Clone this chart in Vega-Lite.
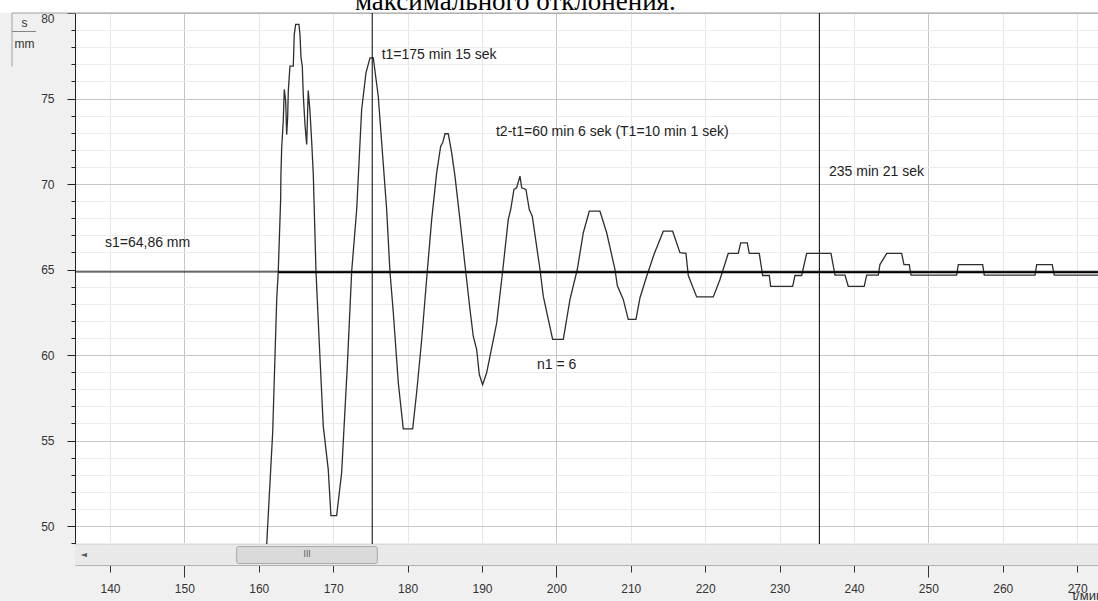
{
  "$schema": "https://vega.github.io/schema/vega-lite/v6.json",
  "width": 1023,
  "height": 531,
  "autosize": {"type": "none"},
  "padding": {"left": 75, "top": 13, "right": 0, "bottom": 57},
  "background": "#f0f0f0",
  "view": {"fill": "white", "stroke": "#b0b0b0", "strokeWidth": 1},
  "layer": [
    {
      "data": {"values": [{}]},
      "mark": {"type": "rect", "fill": "white", "clip": false},
      "encoding": {
        "x": {"datum": 125, "type": "quantitative"},
        "x2": {"datum": 274},
        "y": {"datum": 80, "type": "quantitative"},
        "y2": {"datum": 80.76}
      }
    },
    {
      "data": {"values": [{"caption": "максимального отклонения."}]},
      "mark": {"type": "text", "font": "Liberation Serif", "fontSize": 27, "color": "#000000", "align": "left", "baseline": "alphabetic", "clip": false},
      "encoding": {
        "x": {"datum": 172.93, "type": "quantitative"},
        "y": {"datum": 80.18, "type": "quantitative"},
        "text": {"field": "caption"}
      }
    },
    {
      "data": {"values": [{}]},
      "mark": {"type": "rect", "fill": "#e9e9e9", "clip": false},
      "encoding": {
        "x": {"datum": 135.3, "type": "quantitative"},
        "x2": {"datum": 274},
        "y": {"datum": 48.93, "type": "quantitative"},
        "y2": {"datum": 47.7}
      }
    },
    {
      "data": {"values": [{}]},
      "mark": {"type": "rect", "fill": "#dadada", "stroke": "#a8a8a8", "strokeWidth": 1, "cornerRadius": 2, "clip": false},
      "encoding": {
        "x": {"datum": 157.03, "type": "quantitative"},
        "x2": {"datum": 175.93},
        "y": {"datum": 48.8, "type": "quantitative"},
        "y2": {"datum": 47.81}
      }
    },
    {
      "data": {"values": [{"txt": "III", "t": 166.5}, {"txt": "◄", "t": 136.5}]},
      "mark": {"type": "text", "font": "DejaVu Sans", "fontSize": 8, "color": "#555555", "clip": false, "baseline": "middle"},
      "encoding": {
        "x": {"field": "t", "type": "quantitative"},
        "y": {"datum": 48.31, "type": "quantitative"},
        "text": {"field": "txt"}
      }
    },
    {
      "data": {"values": [{}]},
      "mark": {"type": "rule", "color": "#808080", "strokeWidth": 1, "clip": false},
      "encoding": {
        "x": {"datum": 126.83, "type": "quantitative"},
        "x2": {"datum": 130.05},
        "y": {"datum": 78.92, "type": "quantitative"}
      }
    },
    {
      "data": {"values": [{}]},
      "mark": {"type": "rule", "color": "#a0a0a0", "strokeWidth": 1, "clip": false},
      "encoding": {
        "x": {"datum": 126.83, "type": "quantitative"},
        "y": {"datum": 80, "type": "quantitative"},
        "y2": {"datum": 76.87}
      }
    },
    {
      "data": {"values": [{}]},
      "mark": {"type": "rule", "color": "#a0a0a0", "strokeWidth": 1, "clip": false},
      "encoding": {
        "x": {"datum": 126.83, "type": "quantitative"},
        "x2": {"datum": 274},
        "y": {"datum": 80, "type": "quantitative"}
      }
    },
    {
      "data": {"values": [
        {"t": 161.0, "s": 48.4}, {"t": 161.87, "s": 55.47}, {"t": 162.41, "s": 63.25}, {"t": 162.62, "s": 64.9},
        {"t": 162.94, "s": 69.09}, {"t": 162.98, "s": 70.56}, {"t": 163.08, "s": 72.12}, {"t": 163.29, "s": 73.67},
        {"t": 163.43, "s": 75.53}, {"t": 163.62, "s": 74.84}, {"t": 163.75, "s": 72.89}, {"t": 163.88, "s": 73.87},
        {"t": 163.97, "s": 75.43}, {"t": 164.19, "s": 76.89}, {"t": 164.64, "s": 76.89}, {"t": 164.77, "s": 78.74},
        {"t": 164.96, "s": 79.33}, {"t": 165.4, "s": 79.33}, {"t": 165.54, "s": 78.74}, {"t": 165.67, "s": 77.42},
        {"t": 165.85, "s": 76.89}, {"t": 165.98, "s": 75.23}, {"t": 166.21, "s": 73.48}, {"t": 166.44, "s": 72.31},
        {"t": 166.65, "s": 75.47}, {"t": 166.88, "s": 74.26}, {"t": 167.11, "s": 72.5}, {"t": 167.33, "s": 70.56},
        {"t": 167.42, "s": 69.09}, {"t": 167.69, "s": 64.9}, {"t": 168.13, "s": 60.73}, {"t": 168.67, "s": 55.84},
        {"t": 169.34, "s": 53.3}, {"t": 169.7, "s": 50.61}, {"t": 170.47, "s": 50.61}, {"t": 171.14, "s": 53.13},
        {"t": 171.9, "s": 59.35}, {"t": 172.49, "s": 64.9}, {"t": 173.16, "s": 68.51}, {"t": 173.83, "s": 74.36},
        {"t": 174.41, "s": 76.5}, {"t": 174.95, "s": 77.38}, {"t": 175.39, "s": 77.38}, {"t": 176.06, "s": 75.13},
        {"t": 177.19, "s": 68.51}, {"t": 177.63, "s": 64.9}, {"t": 178.08, "s": 62.49}, {"t": 178.75, "s": 58.39},
        {"t": 179.42, "s": 55.68}, {"t": 180.69, "s": 55.68}, {"t": 181.22, "s": 57.81}, {"t": 181.9, "s": 60.91},
        {"t": 182.65, "s": 64.9}, {"t": 183.24, "s": 67.92}, {"t": 183.91, "s": 70.65}, {"t": 184.45, "s": 72.21},
        {"t": 184.72, "s": 72.41}, {"t": 185.03, "s": 72.94}, {"t": 185.47, "s": 72.94}, {"t": 185.93, "s": 71.82},
        {"t": 186.37, "s": 70.46}, {"t": 187.04, "s": 67.92}, {"t": 187.81, "s": 64.9}, {"t": 188.39, "s": 62.66},
        {"t": 188.83, "s": 61.1}, {"t": 189.29, "s": 60.32}, {"t": 189.64, "s": 58.86}, {"t": 190.09, "s": 58.27},
        {"t": 190.63, "s": 58.96}, {"t": 191.98, "s": 61.88}, {"t": 192.78, "s": 64.9}, {"t": 193.53, "s": 67.92},
        {"t": 193.86, "s": 68.51}, {"t": 194.3, "s": 69.68}, {"t": 194.66, "s": 69.78}, {"t": 195.11, "s": 70.46},
        {"t": 195.34, "s": 69.78}, {"t": 195.91, "s": 69.68}, {"t": 196.36, "s": 68.51}, {"t": 196.76, "s": 68.12},
        {"t": 197.8, "s": 65.0}, {"t": 198.24, "s": 63.44}, {"t": 199.5, "s": 60.91}, {"t": 200.93, "s": 60.91},
        {"t": 201.83, "s": 63.25}, {"t": 202.81, "s": 65.0}, {"t": 203.62, "s": 67.15}, {"t": 204.42, "s": 68.41},
        {"t": 205.86, "s": 68.41}, {"t": 206.76, "s": 67.15}, {"t": 207.88, "s": 65.0}, {"t": 208.19, "s": 64.06},
        {"t": 208.99, "s": 63.25}, {"t": 209.66, "s": 62.08}, {"t": 210.7, "s": 62.08}, {"t": 211.24, "s": 63.35},
        {"t": 212.14, "s": 64.61}, {"t": 213.12, "s": 65.88}, {"t": 214.37, "s": 67.24}, {"t": 215.63, "s": 67.24},
        {"t": 216.61, "s": 65.98}, {"t": 217.42, "s": 65.94}, {"t": 217.73, "s": 64.65}, {"t": 218.86, "s": 63.4},
        {"t": 221.09, "s": 63.4}, {"t": 221.99, "s": 64.42}, {"t": 223.1, "s": 65.94}, {"t": 224.45, "s": 65.94},
        {"t": 224.77, "s": 66.56}, {"t": 225.66, "s": 66.56}, {"t": 225.93, "s": 65.94}, {"t": 227.27, "s": 65.94},
        {"t": 227.73, "s": 64.65}, {"t": 228.62, "s": 64.65}, {"t": 228.8, "s": 64.02}, {"t": 231.76, "s": 64.02},
        {"t": 232.07, "s": 64.65}, {"t": 232.97, "s": 64.65}, {"t": 233.64, "s": 65.94}, {"t": 236.91, "s": 65.94},
        {"t": 237.45, "s": 64.67}, {"t": 238.79, "s": 64.67}, {"t": 239.23, "s": 64.02}, {"t": 241.38, "s": 64.02},
        {"t": 241.71, "s": 64.67}, {"t": 243.27, "s": 64.67}, {"t": 243.49, "s": 65.29}, {"t": 244.4, "s": 65.94},
        {"t": 246.41, "s": 65.94}, {"t": 246.72, "s": 65.29}, {"t": 247.43, "s": 65.29}, {"t": 247.66, "s": 64.67},
        {"t": 253.8, "s": 64.67}, {"t": 254.02, "s": 65.29}, {"t": 257.3, "s": 65.29}, {"t": 257.51, "s": 64.67},
        {"t": 264.33, "s": 64.67}, {"t": 264.56, "s": 65.29}, {"t": 266.65, "s": 65.29}, {"t": 266.92, "s": 64.67},
        {"t": 273.0, "s": 64.67}
      ]},
      "mark": {"type": "line", "color": "#2e2e2e", "strokeWidth": 1.3, "clip": true, "interpolate": "linear"},
      "encoding": {
        "x": {
          "field": "t", "type": "quantitative", "sort": null,
          "scale": {"domain": [135.3, 272.8], "nice": false, "zero": false},
          "axis": {
            "values": [140, 150, 160, 170, 180, 190, 200, 210, 220, 230, 240, 250, 260, 270],
            "tickCount": 100,
            "offset": 21,
            "grid": true,
            "gridColor": {"condition": {"test": "datum.value % 50 === 0", "value": "#c6c6c6"}, "value": "#e6e6e6"},
            "gridWidth": 1,
            "tickSize": {"condition": {"test": "datum.value % 50 === 0", "value": 12}, "value": 7},
            "tickColor": "#333333",
            "domainColor": "#7a7a7a",
            "labelFont": "Liberation Sans",
            "labelFontSize": 12,
            "labelColor": "#333333",
            "labelPadding": {"condition": {"test": "datum.value % 50 === 0", "value": 6}, "value": 11},
            "labelOverlap": false,
            "labelFlush": false,
            "title": "t/мин",
            "titleFont": "Liberation Sans",
            "titleFontSize": 13,
            "titleFontWeight": "normal",
            "titleColor": "#333333",
            "titleX": 997,
            "titleY": 34,
            "titleAlign": "left",
            "titleBaseline": "alphabetic"
          }
        },
        "y": {
          "field": "s", "type": "quantitative",
          "scale": {"domain": [48.95, 80], "nice": false, "zero": false},
          "axis": {
            "values": [49, 50, 51, 52, 53, 54, 55, 56, 57, 58, 59, 60, 61, 62, 63, 64, 65, 66, 67, 68, 69, 70, 71, 72, 73, 74, 75, 76, 77, 78, 79, 80],
            "tickCount": 100,
            "grid": true,
            "gridColor": {"condition": {"test": "datum.value % 5 === 0", "value": "#c6c6c6"}, "value": "#ececec"},
            "gridWidth": 1,
            "tickSize": {"condition": {"test": "datum.value % 5 === 0", "value": 8}, "value": 4},
            "tickColor": "#222222",
            "domainColor": "#222222",
            "labelExpr": "datum.value % 5 === 0 ? format(datum.value, 'd') : ''",
            "labelFont": "Liberation Sans",
            "labelFontSize": 12,
            "labelColor": "#333333",
            "labelAlign": "right",
            "labelPadding": 13,
            "labelOverlap": false,
            "labelFlush": true,
            "title": ["s", "mm"],
            "titleFont": "Liberation Sans",
            "titleFontSize": 12,
            "titleFontWeight": "normal",
            "titleColor": "#333333",
            "titleAngle": 0,
            "titleAlign": "center",
            "titleBaseline": "middle",
            "titleLineHeight": 21,
            "titleX": -51,
            "titleY": 9
          }
        }
      }
    },
    {
      "data": {"values": [{"t": 175.25}, {"t": 235.35}]},
      "mark": {"type": "rule", "color": "#000000", "strokeWidth": 1},
      "encoding": {
        "x": {"field": "t", "type": "quantitative"}
      }
    },
    {
      "data": {"values": [{"s1": 64.86}]},
      "mark": {"type": "rule", "color": "#000000", "strokeWidth": 1},
      "encoding": {
        "y": {"field": "s1", "type": "quantitative"}
      }
    },
    {
      "data": {"values": [{"s1": 64.84}]},
      "mark": {"type": "rule", "color": "#000000", "strokeWidth": 2},
      "encoding": {
        "x": {"datum": 162.62, "type": "quantitative"},
        "x2": {"datum": 272.8},
        "y": {"field": "s1", "type": "quantitative"}
      }
    },
    {
      "data": {"values": [
        {"label": "t1=175 min 15 sek", "t": 176.52, "s": 77.57},
        {"label": "t2-t1=60 min 6 sek (T1=10 min 1 sek)", "t": 191.88, "s": 73.07},
        {"label": "235 min 21 sek", "t": 236.64, "s": 70.73},
        {"label": "s1=64,86 mm", "t": 139.33, "s": 66.58},
        {"label": "n1 = 6", "t": 197.39, "s": 59.44}
      ]},
      "mark": {"type": "text", "align": "left", "baseline": "middle", "font": "Liberation Sans", "fontSize": 14, "color": "#222222"},
      "encoding": {
        "x": {"field": "t", "type": "quantitative"},
        "y": {"field": "s", "type": "quantitative"},
        "text": {"field": "label"}
      }
    }
  ]
}
